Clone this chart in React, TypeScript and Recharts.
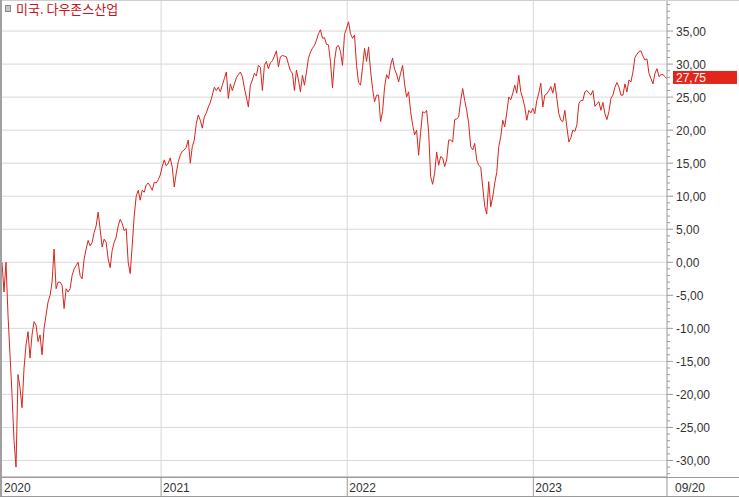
import { LineChart, Line, XAxis, YAxis, CartesianGrid, ReferenceDot } from 'recharts';

const SERIES_NAME = '미국. 다우존스산업';

// first sample date, spacing between samples (calendar days)
const START = Date.UTC(2020, 1, 24);
const STEP_DAYS = 3.928;
const DAY = 86400000;

// % change
const values = [
  0, -4.5, 0, -8, -14, -20, -27, -31, -17, -19,
  -22, -16, -12.5, -10.5, -14.5, -11, -9, -9.5, -12, -11,
  -14, -10, -8, -6, -5, -3, 2, -4, -3, -3,
  -3.5, -7, -4, -4.5, -4, -2, -1, -0.5, 0, -2,
  -2.5, 0.5, 2, 3.3, 2.5, 3, 4.5, 5.5, 7.6, 5,
  2.3, 3.5, 3, 0.5, -0.8, 1.8, 3, 3.8, 5.5, 6.5,
  5.9, 4.8, 5.1, 0, -1.7, 2.5, 7, 10, 10.9, 9.4,
  10.9, 10.6, 11.7, 12, 11.5, 10.9, 12.1, 12, 12.5, 13.2,
  14.5, 15.5, 14.6, 15, 15.8, 14.4, 11.4, 13.5, 15.2, 16.2,
  16.8, 17, 17.4, 18.5, 15, 17.5, 18.5, 21, 22.3, 21.5,
  20.3, 22, 22.6, 23.5, 24.2, 25.3, 26.5, 26, 26.5, 25.8,
  26.8, 27.8, 28.8, 24.8, 27, 26, 27, 27.9, 28.4, 28.8,
  28.1, 26.4, 25, 23.5, 26.8, 27.6, 28.6, 28.2, 29.8, 29.5,
  26, 29.8, 30.4, 29.3, 30.2, 30.5, 31.2, 32, 29.6, 31.1,
  31.3, 31.2, 31.1, 30, 29, 28.6, 26, 29.1, 27.6, 25.8,
  28.3, 26.8, 28.8, 30.9, 31.8, 32.4, 32.8, 33.6, 34.6, 35.2,
  33.9, 34, 33, 32.9, 30.3, 26.4, 30.5, 32.6, 32.8, 31.9,
  29.8, 34.5, 35.4, 36.4, 34.6, 33.9, 34.4, 29.8, 27.2, 26.8,
  29.5, 32.4, 30.4, 32.6, 29, 26.3, 24.3, 25.3, 25.3, 21.3,
  22.8, 26.5, 28.4, 27.8, 29.8, 30.9, 29.2, 28.5, 27.3, 28.6,
  29.8, 27, 25, 25.8, 22.8, 20.8, 19.3, 20, 16.2, 19.7,
  22.8, 22.6, 23, 19.7, 13, 11.8, 13.5, 16.7, 14.7, 16,
  15.8, 14.5, 15.5, 18.5, 18.5, 18.2, 21.6, 21.7, 22, 24.5,
  26.3, 24.5, 23, 21, 17.5, 17, 18, 15.5, 14.7, 14.4,
  11.4, 8.5, 7.3, 12.2, 8.4, 9.9, 12, 13.6, 17.5, 19,
  21.5, 20.5, 22.6, 25, 24.6, 25.6, 26.8, 25.6, 28.3, 25.8,
  24.8, 23.5, 21.5, 23, 22.6, 23.3, 22.5, 24.5, 25.6, 27.1,
  23.5, 25.3, 25.5, 26, 26.6, 25.6, 27.1, 24.8, 22.5, 21.5,
  21.3, 23, 20.5, 18.2, 18.8, 20, 19.8, 20.8, 24, 24.5,
  24.5, 25.8, 26, 25.6, 25.3, 26, 23.6, 24, 24.3, 23,
  24.2, 22.5, 21.6, 22.8, 24.8, 25.3, 26.5, 27.2, 26.5, 25.3,
  25.3, 27, 25.8, 27.6, 27.3, 28.8, 31, 31.5, 31.9, 32,
  31.2, 30.6, 30.8, 28.6, 27.8, 27, 28.6, 29.3, 28.1, 28.4,
  28.4, 28.1, 27.75,
];

const yearLines = [2021, 2022, 2023];
const gridValues = [-30, -25, -20, -15, -10, -5, 0, 5, 10, 15, 20, 25, 30, 35];
const Y_DOMAIN = [-32.5, 39.7];

const data = values.map((v, i) => ({ t: START + i * STEP_DAYS * DAY, v }));
const T_END = data[data.length - 1].t;
const LAST = values[values.length - 1];
const yearTimes = yearLines.map((y) => Date.UTC(y, 0, 1));
const xTicks = [START, ...yearTimes, T_END];
const yTicks: number[] = [];
for (let v = Math.ceil(Y_DOMAIN[0]); v <= Math.floor(Y_DOMAIN[1]); v++) yTicks.push(v);

const FONT = "'Liberation Sans Narrow', 'Liberation Sans', Arial, sans-serif";
const AXIS = '#9a9a9a';
const fmt = (v: number) => v.toFixed(2).replace('.', ',');
const pad = (n: number) => String(n).padStart(2, '0');

function XTick(props: any) {
  const { x, y, payload, index } = props;
  const t = payload.value;
  const d = new Date(t);
  const isEnd = t === T_END;
  const label = isEnd ? `${pad(d.getUTCMonth() + 1)}/${pad(d.getUTCDate())}` : String(d.getUTCFullYear());
  return (
    <g>
      {index > 0 && <line x1={x} x2={x} y1={y} y2={y + 20} stroke={AXIS} />}
      <text x={x + (isEnd ? 8 : 2)} y={y + 15} fill="#333" fontSize={12} fontFamily={FONT}>
        {label}
      </text>
    </g>
  );
}

function YTick(props: any) {
  const { x, y, payload } = props;
  const v = payload.value;
  if (v % 5 !== 0) return <line x1={x} x2={x + 3} y1={y} y2={y} stroke={AXIS} />;
  return (
    <g>
      <line x1={x} x2={x + 6} y1={y} y2={y} stroke={AXIS} />
      <text x={x + 9} y={y + 4.5} fill="#333" fontSize={12} fontFamily={FONT}>
        {fmt(v)}
      </text>
    </g>
  );
}

function PriceTag(props: any) {
  const { cx, cy } = props;
  return (
    <g>
      <rect x={cx + 6} y={cy - 8} width={64} height={13} fill="#e2261c" />
      <text x={cx + 9} y={cy + 3} fill="#fff" fontSize={12} fontFamily={FONT}>
        {fmt(LAST)}
      </text>
    </g>
  );
}

export default function App() {
  return (
    <div style={{ position: 'relative', width: 739, height: 497, background: '#fff', overflow: 'hidden' }}>
      <style>{'body{margin:0}'}</style>
      <LineChart width={739} height={497} data={data} margin={{ top: 0, right: 0, bottom: 0, left: 2 }}>
        <CartesianGrid stroke="#d8d8d8" horizontalValues={gridValues} verticalValues={yearTimes} />
        <XAxis
          dataKey="t"
          type="number"
          domain={[START, T_END]}
          ticks={xTicks}
          interval={0}
          height={20}
          tickSize={0}
          tickMargin={0}
          tickLine={false}
          axisLine={{ stroke: AXIS }}
          tick={(p: any) => <XTick {...p} />}
        />
        <YAxis
          orientation="right"
          width={72}
          domain={Y_DOMAIN}
          ticks={yTicks}
          interval={0}
          allowDataOverflow
          tickSize={0}
          tickMargin={0}
          tickLine={false}
          axisLine={{ stroke: AXIS }}
          tick={(p: any) => <YTick {...p} />}
        />
        <Line type="linear" dataKey="v" stroke="#d9251d" strokeWidth={1} dot={false} isAnimationActive={false} />
        <ReferenceDot x={T_END} y={LAST} shape={(p: any) => <PriceTag {...p} />} />
      </LineChart>
      <div style={{ position: 'absolute', left: 0, top: 0, width: 739, height: 1, background: '#cfcfcf' }} />
      <div style={{ position: 'absolute', left: 0, top: 0, width: 2, height: 497, background: '#a0a0a0' }} />
      <div style={{ position: 'absolute', left: 0, top: 477, width: 739, height: 1, background: AXIS }} />
      <div style={{ position: 'absolute', left: 0, top: 496, width: 739, height: 1, background: AXIS }} />
      <div style={{ position: 'absolute', left: 5, top: 5, width: 4, height: 5, background: '#c8c8c8', border: '1px solid #8a8a8a' }} />
      <div
        style={{
          position: 'absolute',
          left: 16,
          top: 1,
          color: '#c8141e',
          fontSize: 13,
          lineHeight: '16px',
          fontFamily: "'Noto Sans CJK KR', sans-serif",
          whiteSpace: 'nowrap',
        }}
      >
        {SERIES_NAME}
      </div>
    </div>
  );
}
